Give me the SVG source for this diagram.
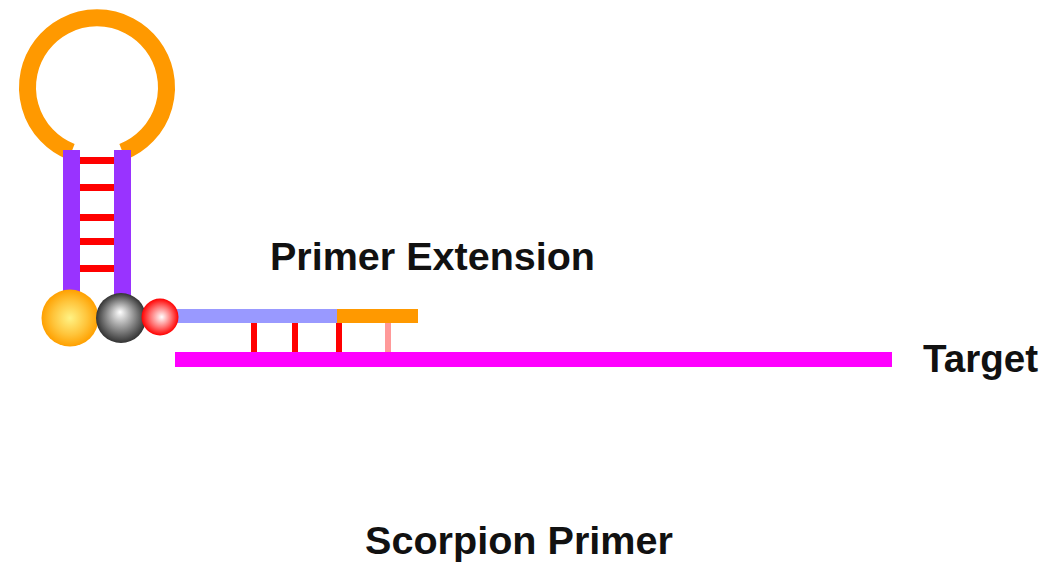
<svg xmlns="http://www.w3.org/2000/svg" width="1050" height="563" viewBox="0 0 1050 563">
  <style>
    .label { font-family: "Liberation Sans", Arial, sans-serif; font-weight: bold; font-size: 39px; fill: #111; }
    .rung { fill: #ff0000; }
    .stem { fill: #9933ff; }
  </style>
  <defs>
    <radialGradient id="gOrange" cx="0.5" cy="0.5" r="0.5">
      <stop offset="0" stop-color="#fff385"/>
      <stop offset="0.6" stop-color="#ffc43a"/>
      <stop offset="1" stop-color="#ffa000"/>
    </radialGradient>
    <radialGradient id="gGray" cx="0.5" cy="0.5" r="0.5" fx="0.48" fy="0.38">
      <stop offset="0" stop-color="#ffffff"/>
      <stop offset="0.5" stop-color="#999999"/>
      <stop offset="1" stop-color="#333333"/>
    </radialGradient>
    <radialGradient id="gRed" cx="0.5" cy="0.5" r="0.5" fx="0.55" fy="0.5">
      <stop offset="0" stop-color="#ffffff"/>
      <stop offset="0.55" stop-color="#ff7777"/>
      <stop offset="1" stop-color="#ff0000"/>
    </radialGradient>
  </defs>

  <!-- hairpin probe: loop, stem and base pairs -->
  <g id="probe">
    <path d="M 71.5 152 A 69.5 69.5 0 1 1 122.5 152" fill="none" stroke="#ff9900" stroke-width="17"/>
    <rect class="stem" x="63" y="150" width="17" height="150"/>
    <rect class="stem" x="114" y="150" width="17" height="150"/>
    <rect class="rung" x="80" y="157" width="34" height="7"/>
    <rect class="rung" x="80" y="184" width="34" height="7"/>
    <rect class="rung" x="80" y="214" width="34" height="7"/>
    <rect class="rung" x="80" y="238" width="34" height="7"/>
    <rect class="rung" x="80" y="265" width="34" height="7"/>
  </g>

  <!-- primer strand: original part and extended part -->
  <g id="primer">
    <rect x="172" y="309" width="166" height="14" fill="#9999ff"/>
    <rect x="337" y="309" width="81" height="14" fill="#ff9900"/>
  </g>

  <!-- fluorophore, quencher and blocker -->
  <g id="fluorophore">
    <circle cx="70" cy="318" r="28.5" fill="url(#gOrange)"/>
  </g>
  <g id="quencher">
    <circle cx="121" cy="318" r="25" fill="url(#gGray)"/>
  </g>
  <g id="blocker">
    <circle cx="160" cy="317" r="18.5" fill="url(#gRed)"/>
  </g>

  <!-- target strand -->
  <g id="target">
    <rect x="175" y="352" width="717" height="15" fill="#ff00ff"/>
  </g>

  <!-- primer–target base pairs -->
  <g id="connectors">
    <rect class="rung" x="251" y="323" width="6" height="29"/>
    <rect class="rung" x="292" y="323" width="6" height="29"/>
    <rect class="rung" x="336" y="323" width="6" height="29"/>
    <rect x="385" y="323" width="6" height="29" fill="#ff9999"/>
  </g>

  <g id="labels">
    <text class="label" x="270" y="270" textLength="325" lengthAdjust="spacingAndGlyphs">Primer Extension</text>
    <text class="label" x="923" y="372" textLength="115" lengthAdjust="spacingAndGlyphs">Target</text>
    <text class="label" x="365" y="554" textLength="308" lengthAdjust="spacingAndGlyphs">Scorpion Primer</text>
  </g>
</svg>
